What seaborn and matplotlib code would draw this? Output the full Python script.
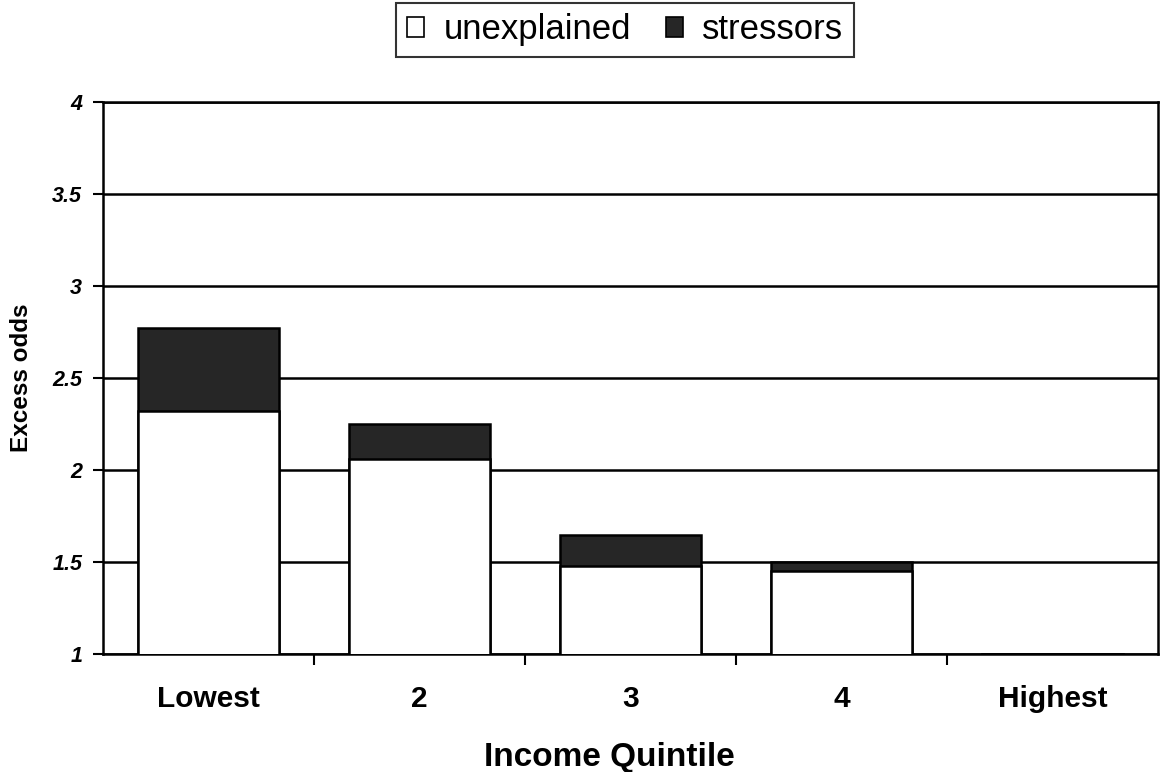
import matplotlib
matplotlib.use("Agg")
import matplotlib.pyplot as plt
from matplotlib.patches import Patch
from matplotlib.ticker import FixedLocator
import seaborn as sns

# Excess odds by income quintile, split into the part explained by stressors
categories = ["Lowest", "2", "3", "4", "Highest"]
unexplained = [2.32, 2.06, 1.48, 1.45, 1.0]
stressors = [0.45, 0.19, 0.165, 0.05, 0.0]
totals = [u + s for u, s in zip(unexplained, stressors)]
y_ticks = [1, 1.5, 2, 2.5, 3, 3.5, 4]
y_tick_labels = ["1", "1.5", "2", "2.5", "3", "3.5", "4"]

sns.set_theme(style="white")
plt.rcParams["font.family"] = ["Liberation Sans", "DejaVu Sans"]
for key in ["text.color", "axes.labelcolor", "xtick.color", "ytick.color", "axes.edgecolor"]:
    plt.rcParams[key] = "black"

W, H = 1160, 772
fig = plt.figure(figsize=(W / 100, H / 100), dpi=100)
left, right, top, bottom = 103, 1158, 102, 654
ax = fig.add_axes([left / W, 1 - bottom / H, (right - left) / W, (bottom - top) / H])

dark = "#262626"
bar_w = 0.665
# Full bar height in dark, then the unexplained part in white over it
sns.barplot(x=categories, y=totals, color=dark, edgecolor="black",
            linewidth=1.8, width=bar_w, saturation=1, ax=ax, zorder=3)
sns.barplot(x=categories, y=unexplained, color="white", edgecolor="black",
            linewidth=1.8, width=bar_w, saturation=1, ax=ax, zorder=4)

ax.set_ylim(1, 4)
ax.set_xlim(-0.5, 4.5)
ax.set_yticks(y_ticks)
ax.set_yticklabels(y_tick_labels, fontsize=15.5, fontweight="bold", fontstyle="italic")
ax.yaxis.grid(True, color="black", linewidth=1.8, zorder=0)
ax.set_axisbelow(True)

# category labels centred, tick marks at category boundaries
ax.set_xticks(range(len(categories)))
ax.set_xticklabels(categories, fontsize=21.5, fontweight="bold")
ax.tick_params(axis="x", which="major", length=0, pad=22)
ax.xaxis.set_minor_locator(FixedLocator([0.5, 1.5, 2.5, 3.5]))
ax.tick_params(axis="x", which="minor", bottom=True, length=8, width=1.5,
               direction="out", color="black")
ax.tick_params(axis="y", which="major", left=True, length=7, width=1.5,
               direction="out", color="black", pad=8)

for side in ["left", "right", "bottom", "top"]:
    ax.spines[side].set_visible(True)
    ax.spines[side].set_color("black")
    ax.spines[side].set_linewidth(1.8)

ax.set_xlabel("Income Quintile", fontsize=24, fontweight="bold")
ax.xaxis.set_label_coords((609 - left) / (right - left), -(742 - bottom) / (bottom - top))
ax.xaxis.label.set_verticalalignment("top")
ax.set_ylabel("Excess odds", fontsize=17.5, fontweight="bold", labelpad=14)

handles = [Patch(facecolor="white", edgecolor="black", linewidth=1.2, label="unexplained"),
           Patch(facecolor=dark, edgecolor="black", linewidth=1.2, label="stressors")]
leg = fig.legend(handles=handles, loc="upper center", bbox_to_anchor=(625 / W, 1 - 3 / H),
                 ncol=2, fontsize=25, frameon=True, fancybox=False,
                 handlelength=0.5, handleheight=0.5, handletextpad=0.55,
                 columnspacing=1.0, borderpad=0.3, borderaxespad=0)
leg.get_frame().set_edgecolor("black")
leg.get_frame().set_linewidth(1.5)

fig.savefig("out.png", dpi=100, facecolor="white")
